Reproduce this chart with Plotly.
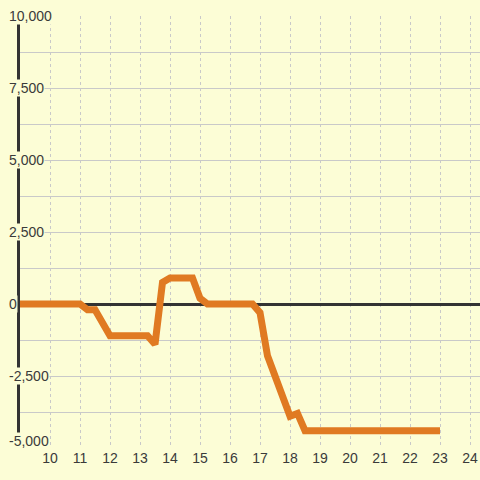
import plotly.graph_objects as go

hours = [9, 11, 11.25, 11.5, 12, 13.25, 13.5, 13.75, 14, 14.75, 15, 15.25,
         16.75, 17, 17.25, 17.75, 18, 18.25, 18.5, 23]
values = [0, 0, -200, -200, -1100, -1100, -1400, 750, 900, 900, 200, 0,
          0, -300, -1800, -3200, -3900, -3800, -4400, -4400]

x_ticks = list(range(10, 25))
y_label_vals = [10000, 7500, 5000, 2500, 0, -2500, -5000]
y_label_text = ["10,000", "7,500", "5,000", "2,500", "0", "-2,500", "-5,000"]

BG = "#fcfdd6"
TXT = "#3a3a3a"
GRID = "#c9c9c9"

fig = go.Figure()
fig.add_trace(go.Scatter(x=hours, y=values, mode="lines",
                         line=dict(color="#e07a22", width=7),
                         hoverinfo="skip"))

for v, t in zip(y_label_vals, y_label_text):
    fig.add_annotation(x=9, y=v, xref="x", yref="y", text=t, showarrow=False,
                       xanchor="left", yanchor="middle", xshift=-12,
                       yshift=7 if v == min(y_label_vals) else 0,
                       bgcolor=BG, borderpad=0,
                       font=dict(family="Liberation Sans, Arial", size=14, color=TXT))

fig.update_layout(
    width=480, height=480,
    margin=dict(l=20, r=0, t=16, b=32),
    paper_bgcolor=BG, plot_bgcolor=BG,
    showlegend=False,
    font=dict(family="Liberation Sans, Arial", size=14, color=TXT),
)
fig.update_xaxes(range=[9, 9 + 460 / 30], tickvals=x_ticks,
                 ticktext=[str(v) for v in x_ticks],
                 showgrid=True, gridcolor=GRID, gridwidth=1, griddash="3px,3px",
                 zeroline=False, showline=False, ticks="",
                 tickfont=dict(size=14, color=TXT))
fig.update_yaxes(range=[-5000, 10000], dtick=1250, tick0=0,
                 showticklabels=False, showgrid=True, gridcolor=GRID, gridwidth=1,
                 zeroline=True, zerolinecolor="#333333", zerolinewidth=3,
                 showline=True, linecolor="#333333", linewidth=3, ticks="")

fig.write_html("out.html", config={"displayModeBar": False},
               post_script="document.body.style.margin='0';document.body.style.padding='0';")
